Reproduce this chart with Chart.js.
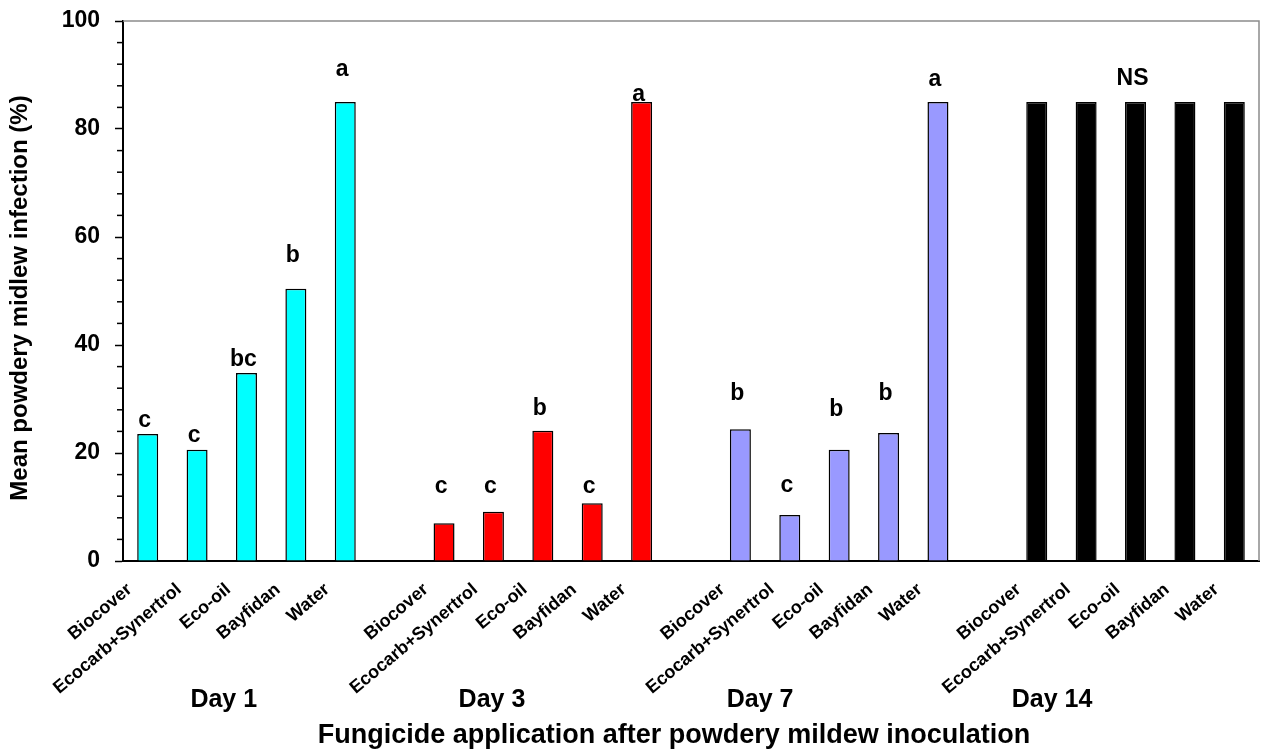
<!DOCTYPE html>
<html>
<head>
<meta charset="utf-8">
<title>Mean powdery mildew infection</title>
<script src="https://cdn.jsdelivr.net/npm/chart.js@4.4.1/dist/chart.umd.min.js"></script>
<style>
  html, body { margin: 0; padding: 0; background: #fff; }
  canvas { display: block; }
</style>
</head>
<body>
<canvas id="chart" width="1261" height="749"></canvas>
<script>
const treatments = ['Biocover', 'Ecocarb+Synertrol', 'Eco-oil', 'Bayfidan', 'Water'];
const days = ['Day 1', 'Day 3', 'Day 7', 'Day 14'];

// mean infection (%)
const day1 = [23.5, 20.6, 34.8, 50.4, 85.0];
const day3 = [7.0, 9.1, 24.1, 10.7, 85.0];
const day7 = [24.4, 8.5, 20.6, 23.7, 85.0];
const day14 = [85.0, 85.0, 85.0, 85.0, 85.0];

// mean separation letters
const letters1 = ['c', 'c', 'bc', 'b', 'a'];
const letters3 = ['c', 'c', 'b', 'c', 'a'];
const letters7 = ['b', 'c', 'b', 'b', 'a'];
const letters14 = ['', '', 'NS', '', ''];

const yTicks = [0, 20, 40, 60, 80, 100];

// ---- styling / layout ----
const FONT = 'Arial, "Liberation Sans", sans-serif';
const barColors = ['#00ffff', '#ff0000', '#9999ff', '#000000'];
// baseline height (in % units) of each letter
const letterHeights = [
  [24.8, 22.0, 36.1, 55.4, 89.8],
  [12.6, 12.6, 27.0, 12.6, 85.1],
  [29.8, 12.8, 26.9, 29.8, 88.0],
  [0, 0, 88.1, 0, 0]
];
// where each day label is centred, in category units
const dayLabelAt = [1.54, 6.97, 12.4, 18.31];

const series = [day1, day3, day7, day14];
const letterSets = [letters1, letters3, letters7, letters14];

const labels = [], values = [], colors = [], letters = [], letterAt = [];
series.forEach((vals, d) => {
  if (d > 0) {
    labels.push(''); values.push(null); colors.push('transparent');
    letters.push(''); letterAt.push(null);
  }
  vals.forEach((v, i) => {
    labels.push(treatments[i]);
    values.push(v);
    colors.push(barColors[d]);
    letters.push(letterSets[d][i]);
    letterAt.push(letterHeights[d][i]);
  });
});

const decorations = {
  id: 'decorations',
  beforeDatasetsDraw(chart) {
    const {ctx, chartArea: a, scales: {y}} = chart;
    ctx.save();
    ctx.strokeStyle = '#8c8c8c';
    ctx.lineWidth = 1.5;
    ctx.beginPath();
    ctx.moveTo(a.left, a.top);
    ctx.lineTo(a.right, a.top);
    ctx.lineTo(a.right, a.bottom);
    ctx.stroke();

    // minor ticks every 4
    ctx.strokeStyle = '#000';
    ctx.lineWidth = 1.5;
    for (let v = 4; v < 100; v += 4) {
      if (v % 20 === 0) continue;
      const py = y.getPixelForValue(v);
      ctx.beginPath();
      ctx.moveTo(a.left - 6, py);
      ctx.lineTo(a.left, py);
      ctx.stroke();
    }
    ctx.restore();
  },
  afterDraw(chart) {
    const {ctx, chartArea: a, scales: {x, y}} = chart;
    ctx.save();
    ctx.fillStyle = '#000';
    ctx.textAlign = 'center';
    ctx.textBaseline = 'alphabetic';

    ctx.font = 'bold 23px ' + FONT;
    letters.forEach((t, i) => {
      if (!t) return;
      ctx.fillText(t, x.getPixelForValue(i) - 3, y.getPixelForValue(letterAt[i]));
    });

    ctx.font = 'bold 25px ' + FONT;
    days.forEach((d, k) => {
      ctx.fillText(d, x.getPixelForValue(dayLabelAt[k]), a.bottom + 146);
    });

    ctx.font = 'bold 27px ' + FONT;
    ctx.fillText('Fungicide application after powdery mildew inoculation',
      (a.left + a.right) / 2 - 17, a.bottom + 182);

    ctx.font = 'bold 24px ' + FONT;
    ctx.textBaseline = 'middle';
    ctx.translate(20, (a.top + a.bottom) / 2 + 7);
    ctx.rotate(-Math.PI / 2);
    ctx.fillText('Mean powdery midlew infection (%)', 0, 0);
    ctx.restore();
  }
};

Chart.defaults.font.family = FONT;
Chart.defaults.color = '#000';

new Chart(document.getElementById('chart'), {
  type: 'bar',
  data: {
    labels: labels,
    datasets: [{
      data: values,
      backgroundColor: colors,
      borderColor: '#000',
      borderWidth: 1.5,
      barPercentage: 0.425,
      categoryPercentage: 1
    }]
  },
  options: {
    responsive: false,
    animation: false,
    layout: { padding: { top: 21, right: 2, bottom: 0, left: 0 } },
    plugins: {
      legend: { display: false },
      tooltip: { enabled: false }
    },
    scales: {
      x: {
        grid: { display: false, drawTicks: false },
        border: { display: true, color: '#000', width: 2 },
        ticks: {
          autoSkip: false,
          minRotation: 40,
          maxRotation: 40,
          padding: 18,
          labelOffset: -18,
          font: { size: 18, weight: 'bold' },
          color: '#000'
        },
        afterFit(s) {
          s.height = 188;
          s.paddingLeft = 0;
          s.paddingRight = 0;
          s.paddingTop = 0;
          s.paddingBottom = 0;
        }
      },
      y: {
        min: 0,
        max: 100,
        afterBuildTicks(s) { s.ticks = yTicks.map(v => ({ value: v })); },
        grid: {
          drawOnChartArea: false,
          drawTicks: true,
          tickLength: 8,
          tickColor: '#000',
          tickWidth: 1.5
        },
        border: { display: true, color: '#000', width: 2 },
        ticks: {
          padding: 15,
          font: { size: 23, weight: 'bold' },
          color: '#000'
        },
        afterFit(s) {
          s.width = 123;
          s.paddingTop = 0;
          s.paddingBottom = 0;
        }
      }
    }
  },
  plugins: [decorations]
});
</script>
</body>
</html>
